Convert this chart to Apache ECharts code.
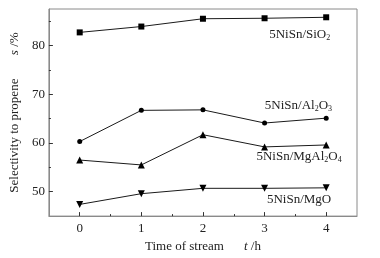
<!DOCTYPE html>
<html><head><meta charset="utf-8">
<script src="https://cdn.jsdelivr.net/npm/echarts@6/dist/echarts.min.js"></script>
<style>html,body{margin:0;padding:0;background:#fff}#c{width:380px;height:258px}</style>
</head><body><div id="c"></div>
<script>
const hours = [0, 1, 2, 3, 4];
const xMinorTicks = [0.5, 1.5, 2.5, 3.5];
const yLabels = [50, 60, 70, 80];
const yMinorTicks = [55, 65, 75, 85];
const sio2 = [82.7, 83.9, 85.5, 85.6, 85.8];
const al2o3 = [60.3, 66.7, 66.8, 64.1, 65.1];
const mgal2o4 = [56.5, 55.5, 61.7, 59.2, 59.6];
const mgo = [47.4, 49.6, 50.7, 50.7, 50.8];
const seriesNames = ['5NiSn/SiO{s|2}', '5NiSn/Al{s|2}O{s|3}', '5NiSn/MgAl{s|2}O{s|4}', '5NiSn/MgO'];
const labelAnchors = [[3.57, 82.2], [3.55, 67.7], [3.56, 57.2], [3.56, 48.4]];

const FONT = 'Liberation Serif';
const AX = '#8a8a8a';
const chart = echarts.init(document.getElementById('c'));
const sets = [sio2, al2o3, mgal2o4, mgo];
const symbols = [['rect', 6, 0], ['circle', 5, 0], ['triangle', 7, 0], ['triangle', 7, 180]];
const series = sets.map((vals, i) => ({
  type: 'line',
  data: hours.map((h, j) => [h, vals[j]]),
  symbol: symbols[i][0], symbolSize: symbols[i][1], symbolRotate: symbols[i][2],
  showAllSymbol: true,
  lineStyle: { color: '#1a1a1a', width: 1 },
  itemStyle: { color: '#000' },
  animation: false,
  markPoint: {
    symbol: 'rect', symbolSize: [1, 1],
    itemStyle: { color: 'rgba(0,0,0,0)' },
    data: [{ coord: labelAnchors[i] }],
    label: {
      show: true, position: 'inside', formatter: seriesNames[i],
      fontFamily: FONT, fontSize: 13, color: '#222',
      rich: { s: { fontFamily: FONT, fontSize: 8, color: '#222', verticalAlign: 'bottom', padding: [6, 0, 0, 0] } }
    }
  }
}));

const xBase = { type: 'value', min: -0.5, max: 4.5, gridIndex: 0 };
const yBase = { type: 'value', min: 45, max: 87.5, gridIndex: 0 };
chart.setOption({
  animation: false,
  grid: { left: 41, right: 23, top: 9, bottom: 41, show: true, borderColor: AX, borderWidth: 1 },
  xAxis: [
    Object.assign({}, xBase, {
      position: 'bottom',
      name: '{n|Time of stream}      {i|t} {n|/h}', nameLocation: 'middle', nameGap: 18,
      nameTextStyle: { rich: { n: { fontFamily: FONT, fontSize: 13, color: '#222' }, i: { fontFamily: FONT, fontSize: 13, fontStyle: 'italic', color: '#222' } } },
      axisLine: { show: true, onZero: false, lineStyle: { color: AX, width: 1 } },
      axisTick: { show: true, inside: true, length: 4, customValues: hours, lineStyle: { color: '#333' } },
      axisLabel: { customValues: hours, fontFamily: FONT, fontSize: 13, color: '#222', margin: 6 },
      splitLine: { show: false }
    }),
    Object.assign({}, xBase, {
      position: 'bottom',
      axisLine: { show: false, onZero: false },
      axisTick: { show: true, inside: true, length: 2, customValues: xMinorTicks, lineStyle: { color: '#333' } },
      axisLabel: { show: false },
      splitLine: { show: false }
    })
  ],
  yAxis: [
    Object.assign({}, yBase, {
      position: 'left',
      name: '{n|Selectivity to propene}       {i|s} {n|/%}', nameLocation: 'middle', nameGap: 23,
      nameTextStyle: { rich: { n: { fontFamily: FONT, fontSize: 13, color: '#222' }, i: { fontFamily: FONT, fontSize: 13, fontStyle: 'italic', color: '#222' } } },
      axisLine: { show: true, onZero: false, lineStyle: { color: AX, width: 1 } },
      axisTick: { show: true, inside: true, length: 4, customValues: yLabels, lineStyle: { color: '#333' } },
      axisLabel: { customValues: yLabels, fontFamily: FONT, fontSize: 13, color: '#222', margin: 4 },
      splitLine: { show: false }
    }),
    Object.assign({}, yBase, {
      position: 'left',
      axisLine: { show: false, onZero: false },
      axisTick: { show: true, inside: true, length: 2, customValues: yMinorTicks, lineStyle: { color: '#333' } },
      axisLabel: { show: false },
      splitLine: { show: false }
    })
  ],
  series: series
});
</script>
</body></html>
